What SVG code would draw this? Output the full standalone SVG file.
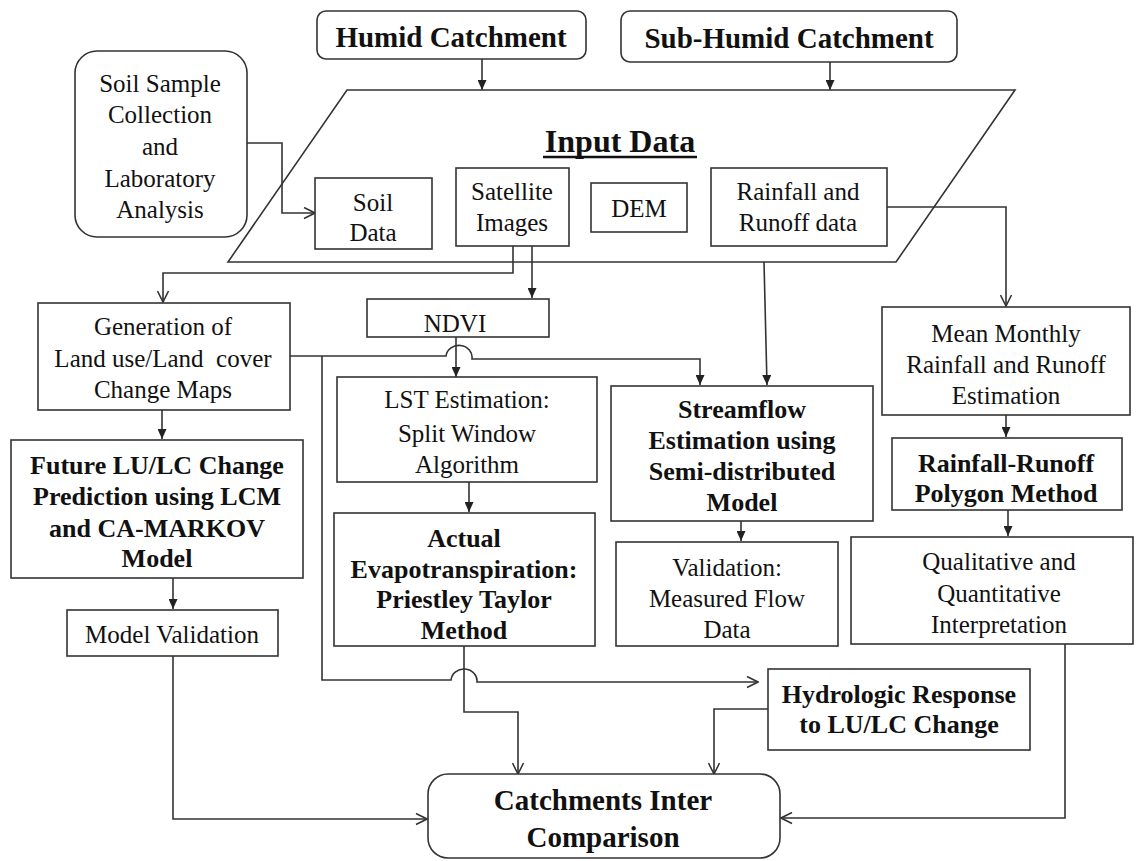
<svg xmlns="http://www.w3.org/2000/svg" width="1136" height="861" viewBox="0 0 1136 861">
  <style>
    .box { fill: #fff; stroke: #333; stroke-width: 1.6; }
    .frame { fill: none; stroke: #333; stroke-width: 1.6; }
    .t { font-family: 'Liberation Serif', 'DejaVu Serif', serif; font-size: 25px; fill: #111; text-anchor: middle; }
    .b { font-weight: bold; font-size: 26px; }
    .big { font-weight: bold; font-size: 29px; }
    .wire { fill: none; stroke: #333; stroke-width: 1.6; }
    .fa { marker-end: url(#solid); }
    .oa { marker-end: url(#open); }
  </style>
  <defs>
    <marker id="solid" markerUnits="userSpaceOnUse" markerWidth="10" markerHeight="9" refX="10" refY="4.5" orient="auto">
      <path d="M0,0 L10,4.5 L0,9 z" fill="#222"/>
    </marker>
    <marker id="open" markerUnits="userSpaceOnUse" markerWidth="13" markerHeight="13" refX="12" refY="6.5" orient="auto">
      <path d="M1,1 L12,6.5 L1,12" fill="none" stroke="#333" stroke-width="1.6"/>
    </marker>
  </defs>

  <rect width="1136" height="861" fill="#fff"/>

  <!-- connectors -->
  <g id="connectors">
    <line class="wire fa" x1="482" y1="59" x2="482" y2="90"/>
    <line class="wire fa" x1="830" y1="62" x2="830" y2="90"/>
    <path class="wire oa" d="M247,143 H282 V213 H315"/>
    <path class="wire oa" d="M513,246 V273 H163 V302"/>
    <line class="wire fa" x1="532" y1="246" x2="532" y2="298"/>
    <path class="wire oa" d="M887,207 H1006 V306"/>
    <line class="wire fa" x1="764" y1="262" x2="767" y2="385"/>
    <!-- land cover maps feed streamflow and the hydrologic response -->
    <path class="wire fa" d="M290,356 H446 A13,12 0 0 1 472,359 H700 V385"/>
    <path class="wire oa" d="M322,356 V680 H451 A13,12 0 0 1 477,682 H758"/>
    <line class="wire fa" x1="456" y1="337" x2="456" y2="377"/>
    <line class="wire fa" x1="162" y1="410" x2="162" y2="439"/>
    <line class="wire fa" x1="173" y1="578" x2="173" y2="609"/>
    <path class="wire oa" d="M173,656 V819 H427"/>
    <line class="wire fa" x1="469" y1="482" x2="469" y2="512"/>
    <path class="wire oa" d="M464,646 V712 H518 V774"/>
    <line class="wire fa" x1="741" y1="521" x2="741" y2="541"/>
    <path class="wire oa" d="M768,709 H714 V774"/>
    <line class="wire fa" x1="1006" y1="415" x2="1006" y2="437"/>
    <line class="wire fa" x1="1008" y1="510" x2="1008" y2="536"/>
    <path class="wire oa" d="M1065,644 V818 H781"/>
  </g>

  <!-- input data frame -->
  <g id="input-data">
    <polygon class="frame" points="347,90 1015,90 896,262 228,262"/>
    <text class="t" x="620" y="152" style="font-weight:bold;font-size:32px">Input Data</text>
    <line x1="543" y1="157" x2="697" y2="157" stroke="#111" stroke-width="2.5"/>
  </g>

  <g id="humid">
    <rect class="box" x="317" y="11" width="269" height="48" rx="9"/>
    <text class="t big" x="451" y="47">Humid Catchment</text>
  </g>
  <g id="sub-humid">
    <rect class="box" x="621" y="11" width="336" height="51" rx="9"/>
    <text class="t big" x="789" y="48">Sub-Humid Catchment</text>
  </g>

  <g id="soil-sample">
    <rect class="box" x="75" y="51" width="172" height="186" rx="22"/>
    <text class="t" x="160" y="92">Soil Sample</text>
    <text class="t" x="160" y="123">Collection</text>
    <text class="t" x="160" y="155">and</text>
    <text class="t" x="160" y="187">Laboratory</text>
    <text class="t" x="160" y="218">Analysis</text>
  </g>

  <g id="soil-data">
    <rect class="box" x="315" y="178" width="117" height="71"/>
    <text class="t" x="373" y="211">Soil</text>
    <text class="t" x="373" y="241">Data</text>
  </g>
  <g id="satellite">
    <rect class="box" x="456" y="168" width="113" height="78"/>
    <text class="t" x="512" y="200">Satellite</text>
    <text class="t" x="512" y="231">Images</text>
  </g>
  <g id="dem">
    <rect class="box" x="591" y="183" width="96" height="49"/>
    <text class="t" x="639" y="217">DEM</text>
  </g>
  <g id="rainfall-runoff-data">
    <rect class="box" x="711" y="168" width="176" height="78"/>
    <text class="t" x="798" y="200">Rainfall and</text>
    <text class="t" x="798" y="231">Runoff data</text>
  </g>

  <g id="lulc-maps">
    <rect class="box" x="38" y="303" width="252" height="107"/>
    <text class="t" x="163" y="335">Generation of</text>
    <text class="t" x="163" y="367" xml:space="preserve">Land use/Land  cover</text>
    <text class="t" x="163" y="398">Change Maps</text>
  </g>
  <g id="ndvi">
    <rect class="box" x="367" y="299" width="182" height="38"/>
    <text class="t" x="455" y="332">NDVI</text>
  </g>
  <g id="mean-monthly">
    <rect class="box" x="882" y="307" width="248" height="108"/>
    <text class="t" x="1006" y="342">Mean Monthly</text>
    <text class="t" x="1006" y="373">Rainfall and Runoff</text>
    <text class="t" x="1006" y="404">Estimation</text>
  </g>

  <g id="future-lulc">
    <rect class="box" x="11" y="440" width="292" height="138"/>
    <text class="t b" x="157" y="474">Future LU/LC Change</text>
    <text class="t b" x="157" y="505">Prediction using LCM</text>
    <text class="t b" x="157" y="537">and CA-MARKOV</text>
    <text class="t b" x="157" y="567">Model</text>
  </g>
  <g id="lst">
    <rect class="box" x="337" y="377" width="260" height="105"/>
    <text class="t" x="467" y="408">LST Estimation:</text>
    <text class="t" x="467" y="442">Split Window</text>
    <text class="t" x="467" y="473">Algorithm</text>
  </g>
  <g id="streamflow">
    <rect class="box" x="611" y="386" width="262" height="135"/>
    <text class="t b" x="742" y="418">Streamflow</text>
    <text class="t b" x="742" y="449">Estimation using</text>
    <text class="t b" x="742" y="480">Semi-distributed</text>
    <text class="t b" x="742" y="511">Model</text>
  </g>
  <g id="rainfall-runoff-polygon">
    <rect class="box" x="892" y="438" width="230" height="72"/>
    <text class="t b" x="1006" y="472">Rainfall-Runoff</text>
    <text class="t b" x="1006" y="502">Polygon Method</text>
  </g>

  <g id="actual-et">
    <rect class="box" x="334" y="513" width="261" height="133"/>
    <text class="t b" x="464" y="547">Actual</text>
    <text class="t b" x="464" y="578">Evapotranspiration:</text>
    <text class="t b" x="464" y="608">Priestley Taylor</text>
    <text class="t b" x="464" y="639">Method</text>
  </g>
  <g id="validation">
    <rect class="box" x="616" y="542" width="222" height="104"/>
    <text class="t" x="727" y="576">Validation:</text>
    <text class="t" x="727" y="607">Measured Flow</text>
    <text class="t" x="727" y="638">Data</text>
  </g>
  <g id="interpretation">
    <rect class="box" x="851" y="537" width="282" height="107"/>
    <text class="t" x="999" y="570">Qualitative and</text>
    <text class="t" x="999" y="602">Quantitative</text>
    <text class="t" x="999" y="633">Interpretation</text>
  </g>

  <g id="model-validation">
    <rect class="box" x="67" y="610" width="211" height="46"/>
    <text class="t" x="172" y="643">Model Validation</text>
  </g>
  <g id="hydrologic-response">
    <rect class="box" x="768" y="669" width="262" height="81"/>
    <text class="t b" x="899" y="703">Hydrologic Response</text>
    <text class="t b" x="899" y="733">to LU/LC Change</text>
  </g>

  <g id="inter-comparison">
    <rect class="box" x="428" y="774" width="352" height="84" rx="20"/>
    <text class="t big" x="603" y="810">Catchments Inter</text>
    <text class="t big" x="603" y="847">Comparison</text>
  </g>
</svg>
